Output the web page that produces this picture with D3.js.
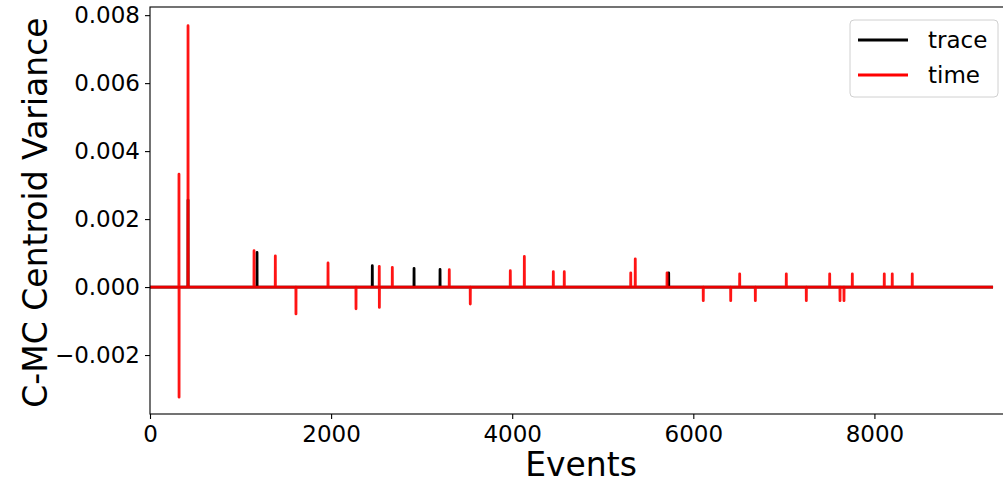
<!DOCTYPE html>
<html>
<head>
<meta charset="utf-8">
<script src="https://cdn.jsdelivr.net/npm/d3@7"></script>
<style>
  body { margin: 0; background: #fff; }
  text { font-family: "DejaVu Sans", sans-serif; }
</style>
</head>
<body>
<script>
// Spike events (event index, value)
const nEvents = 9310;

const timeEvents = [320, 321, 420, 1149, 1384, 1612, 1966, 2275, 2532, 2533, 2676, 3305, 3537, 3979, 4134, 4454, 4575, 5309, 5359, 5710, 6110, 6413, 6512, 6685, 7027, 7248, 7506, 7620, 7664, 7756, 8109, 8197, 8418];
const timeValues = [0.00332, -0.00324, 0.00769, 0.00107, 0.00092, -0.00079, 0.00071, -0.00064, 0.00061, -0.0006, 0.00058, 0.00051, -0.0005, 0.00048, 0.0009, 0.00045, 0.00045, 0.00042, 0.00083, 0.00042, -0.0004, -0.0004, 0.00039, -0.0004, 0.00039, -0.0004, 0.00039, -0.0004, -0.0004, 0.00039, 0.00039, 0.00039, 0.00039];

const traceEvents = [420, 1182, 2455, 2916, 3203, 5728];
const traceValues = [0.00256, 0.00102, 0.00063, 0.00055, 0.00052, 0.00042];

const xTicks = [0, 2000, 4000, 6000, 8000];
const yTicks = [-0.002, 0, 0.002, 0.004, 0.006, 0.008];

// build a line series: zero baseline with one-sample spikes
function buildSeries(events, values) {
    const pts = [[0, 0]];
    events.forEach((e, i) => {
        const last = pts[pts.length - 1];
        if (last[0] < e - 1) pts.push([e - 1, 0]);
        pts.push([e, values[i]]);
        if (events[i + 1] !== e + 1) pts.push([e + 1, 0]);
    });
    pts.push([nEvents, 0]);
    return pts;
}

const series = [
    {name: "trace", color: "#000000", data: buildSeries(traceEvents, traceValues)},
    {name: "time", color: "#ff0000", data: buildSeries(timeEvents, timeValues)}
];

const margin = {top: 7, left: 150};
const W = 1003, H = 484;
const plotBottom = 414;

const svg = d3.select("body").append("svg")
    .attr("width", W)
    .attr("height", H);

const xScale = d3.scaleLinear()
    .domain([0, 9420])
    .range([margin.left, W]);

const yScale = d3.scaleLinear()
    .domain([-0.003735, 0.00824])
    .range([plotBottom, margin.top]);

const line = d3.line()
    .x(d => xScale(d[0]))
    .y(d => yScale(d[1]));

// Lines
svg.selectAll("path.series")
    .data(series)
    .enter().append("path")
    .attr("class", "series")
    .attr("d", d => line(d.data))
    .attr("fill", "none")
    .attr("stroke", d => d.color)
    .attr("stroke-opacity", d => d.name === "time" ? 0.92 : 1)
    .attr("stroke-width", 2.8)
    .attr("stroke-linejoin", "round");

// Axes
const xAxis = svg.append("g")
    .attr("transform", "translate(0," + plotBottom + ")")
    .call(d3.axisBottom(xScale).tickValues(xTicks).tickFormat(d3.format("d")).tickSize(5).tickPadding(5));

const yAxis = svg.append("g")
    .attr("transform", "translate(" + margin.left + ",0)")
    .call(d3.axisLeft(yScale).tickValues(yTicks).tickFormat(d3.format(".3f")).tickSize(5).tickPadding(5));

[xAxis, yAxis].forEach(a => {
    a.selectAll("text").style("font-size", "23px").attr("fill", "#000");
    a.selectAll("line").attr("stroke", "#000").attr("stroke-width", 1.1);
    a.select(".domain").remove();
});
xAxis.selectAll("text").attr("dy", "0.8em");

// Spines
svg.append("rect")
    .attr("x", margin.left)
    .attr("y", margin.top)
    .attr("width", W - margin.left + 5)
    .attr("height", plotBottom - margin.top)
    .attr("fill", "none")
    .attr("stroke", "#000")
    .attr("stroke-width", 1.1);

// Axis labels
svg.append("text")
    .attr("x", 581)
    .attr("y", 476)
    .attr("text-anchor", "middle")
    .style("font-size", "33px")
    .text("Events");

svg.append("text")
    .attr("transform", "rotate(-90)")
    .attr("x", -(margin.top + plotBottom) / 2 - 2)
    .attr("y", 47)
    .attr("text-anchor", "middle")
    .style("font-size", "33px")
    .text("C-MC Centroid Variance");

// Legend
const legendBox = svg.append("g").attr("transform", "translate(850,20)");
legendBox.append("rect")
    .attr("width", 148)
    .attr("height", 77)
    .attr("rx", 4)
    .attr("fill", "#fff")
    .attr("fill-opacity", 0.8)
    .attr("stroke", "#d0d0d0");

const legend = legendBox.selectAll(".legend")
    .data(series)
    .enter().append("g")
    .attr("class", "legend")
    .attr("transform", (d, i) => "translate(0," + (20 + i * 35) + ")");

legend.append("line")
    .attr("x1", 8)
    .attr("x2", 58)
    .attr("stroke", d => d.color)
    .attr("stroke-width", 2.8);

legend.append("text")
    .attr("x", 78)
    .attr("dy", "0.35em")
    .style("font-size", "23px")
    .text(d => d.name);
</script>
</body>
</html>
